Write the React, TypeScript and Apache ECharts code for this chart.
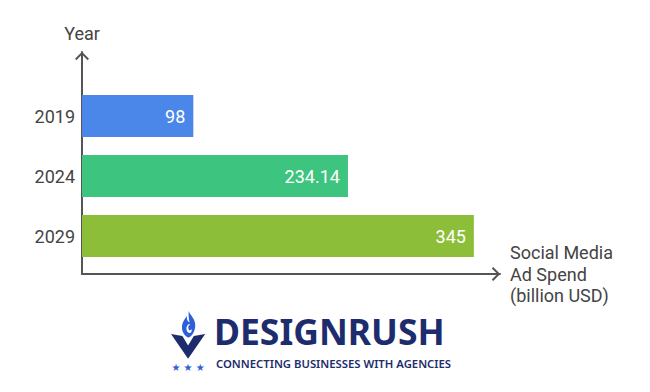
import React, { useEffect, useRef } from "react";
import * as echarts from "echarts";

const years = ["2019", "2024", "2029"];
const spend = [98, 234.14, 345];
const barColors = ["#4b87e8", "#3dc47e", "#8dbe3a"];
const xName = "Social Media\nAd Spend\n(billion USD)";
const yName = "Year";

const NAVY = "#1d2c6c";
const BLUE = "#2d5fd9";

const chevron = "path://M0,7 L7,0 L14,7 L12.6,8.4 L7,2.8 L1.4,8.4 Z";

echarts.graphic.registerShape(
  "drFlame",
  echarts.graphic.extendPath(
    "M8,0 C10,5 15,8 15,15 C15,22 11,27 8,28 C5,27 1,23 1,17 C1,12 4,9 6,5 C6,9 7,11 9,12 C8,8 8,4 8,0 Z M8,14 C5,16 5,21 8,23 C10,24 12,22 11,19 C10,21 8,21 8,19 C7,17 8,15 10,14 Z",
    {}
  )
);
echarts.graphic.registerShape(
  "drV",
  echarts.graphic.extendPath(
    "M0,0 L12,2 L18,12 L24,2 L36,0 L18,26 Z",
    {}
  )
);

export default function App() {
  const ref = useRef<HTMLDivElement>(null);
  useEffect(() => {
    if (!ref.current) return;
    const chart = echarts.init(ref.current, null, { renderer: "svg" });
    const font = "Roboto";
    chart.setOption({
      animation: false,
      backgroundColor: "#ffffff",
      textStyle: { fontFamily: font },
      grid: [
        { left: 82, right: 150, top: 52, bottom: 118 },
        { left: 82, right: 150, top: 86, height: 180 },
      ],
      xAxis: [
        {
          gridIndex: 0,
          type: "value",
          min: 0,
          max: 368,
          axisLine: {
            show: true,
            lineStyle: { color: "#555555", width: 2 },
            symbol: ["none", chevron],
            symbolSize: [14, 8.4],
            symbolOffset: [0, -4],
          },
          axisTick: { show: false },
          axisLabel: { show: false },
          splitLine: { show: false },
          name: xName,
          nameLocation: "end",
          nameGap: 10,
          nameTextStyle: {
            fontFamily: font,
            fontSize: 18,
            color: "#444444",
            align: "left",
            verticalAlign: "middle",
            lineHeight: 21.5,
          },
        },
        {
          gridIndex: 1,
          type: "value",
          min: 0,
          max: 368,
          show: false,
        },
      ],
      yAxis: [
        {
          gridIndex: 0,
          type: "value",
          min: 0,
          max: 1,
          axisLine: {
            show: true,
            lineStyle: { color: "#555555", width: 2 },
            symbol: ["none", chevron],
            symbolSize: [14, 8.4],
            symbolOffset: [0, -4],
          },
          axisTick: { show: false },
          axisLabel: { show: false },
          splitLine: { show: false },
          name: yName,
          nameLocation: "end",
          nameGap: 10,
          nameTextStyle: {
            fontFamily: font,
            fontSize: 18,
            color: "#444444",
            align: "center",
          },
        },
        {
          gridIndex: 1,
          type: "category",
          inverse: true,
          data: years,
          axisLine: { show: false },
          axisTick: { show: false },
          splitLine: { show: false },
          axisLabel: {
            fontFamily: font,
            fontSize: 18,
            color: "#444444",
            margin: 7,
          },
        },
      ],
      series: [
        {
          type: "bar",
          xAxisIndex: 1,
          yAxisIndex: 1,
          barWidth: 42,
          data: spend.map((v, i) => ({ value: v, itemStyle: { color: barColors[i] } })),
          label: {
            show: true,
            position: "insideRight",
            distance: 8,
            color: "#ffffff",
            fontFamily: font,
            fontSize: 18,
          },
        },
      ],
      graphic: [
        {
          type: "drFlame",
          x: 181,
          y: 311,
          scaleX: 0.95,
          scaleY: 0.95,
          style: { fill: BLUE },
        },
        {
          type: "drV",
          x: 171,
          y: 334,
          scaleX: 0.95,
          scaleY: 0.95,
          style: { fill: NAVY },
        },
        {
          type: "text",
          x: 188,
          y: 367,
          style: {
            text: "★ ★ ★",
            fill: BLUE,
            fontSize: 10,
            fontFamily: "DejaVu Sans",
            align: "center",
            verticalAlign: "middle",
          },
        },
        {
          type: "text",
          x: 214,
          y: 331,
          style: {
            text: "DESIGNRUSH",
            fill: NAVY,
            fontSize: 35.5,
            fontWeight: "bold",
            fontFamily: "Noto Sans",
            verticalAlign: "middle",
          },
        },
        {
          type: "text",
          x: 216,
          y: 363,
          style: {
            text: "CONNECTING BUSINESSES WITH AGENCIES",
            fill: NAVY,
            fontSize: 11.3,
            fontWeight: 600,
            fontFamily: "Noto Sans",
            verticalAlign: "middle",
          },
        },
      ],
    });
    return () => chart.dispose();
  }, []);
  return (
    <div
      ref={ref}
      style={{ width: 650, height: 392, position: "absolute", left: 0, top: 0 }}
    />
  );
}
